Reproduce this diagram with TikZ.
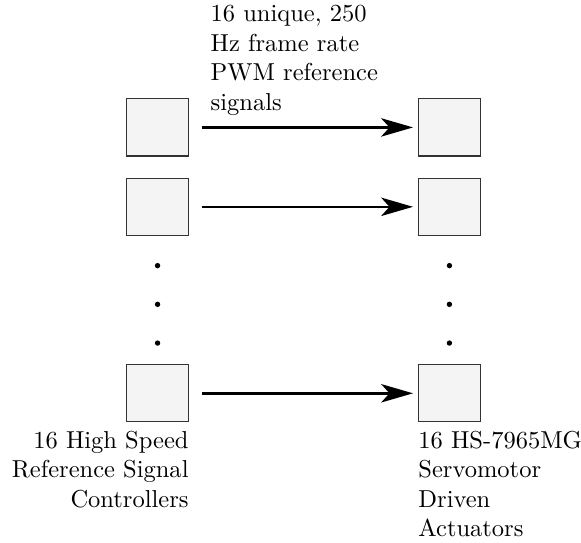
\documentclass[tikz,border=0pt]{standalone}
\usepackage{xcolor}
\usepackage{tikz}
\usetikzlibrary{arrows.meta,positioning}
\definecolor{boxfill}{HTML}{F4F4F4}

\begin{document}
\begin{tikzpicture}[
  box/.style={draw=black!80, line width=0.5pt, fill=boxfill, inner sep=0pt, minimum width=25.2pt, minimum height=23.3pt},
  arrow/.style={-{Stealth[length=13pt, width=7.5pt, inset=3.4pt]}, line width=1pt, shorten <=5.3pt, shorten >=2pt},
  vdot/.style={circle, fill=black, inner sep=0pt, minimum size=2.2pt},
  lbl/.style={font=\normalsize}
]
\useasboundingbox (0,0) rectangle (237.1pt,-221.5pt);
\node[box] (ctrl1) at (64.3pt,-52pt) {};
\node[box, below=8.6pt of ctrl1] (ctrl2) {};
\node[box, below=52.3pt of ctrl2] (ctrl16) {};
\node[box, right=93.4pt of ctrl1] (act1) {};
\node[box, right=93.4pt of ctrl2] (act2) {};
\node[box, right=93.4pt of ctrl16] (act16) {};

\node[vdot, below=10.8pt of ctrl2] (cdot1) {};
\node[vdot, below=13.2pt of cdot1] (cdot2) {};
\node[vdot, below=13.2pt of cdot2] (cdot3) {};
\node[vdot, below=10.8pt of act2] (adot1) {};
\node[vdot, below=13.2pt of adot1] (adot2) {};
\node[vdot, below=13.2pt of adot2] (adot3) {};

\draw[arrow] (ctrl1) -- (act1);
\draw[arrow] (ctrl2) -- (act2);
\draw[arrow] (ctrl16) -- (act16);

\node[lbl, anchor=south west, align=left] (siglbl) at ([xshift=5.3pt, yshift=1.5pt]ctrl1.east) {16 unique, 250\\Hz frame rate\\PWM reference\\signals};
\node[lbl, anchor=north east, align=right, inner xsep=0pt] (ctrllbl) at (ctrl16.south east) {16 High Speed\\Reference Signal\\Controllers};
\node[lbl, anchor=north west, align=left, inner xsep=0pt] (actlbl) at (act16.south west) {16 HS-7965MG\\Servomotor\\Driven\\Actuators};
\end{tikzpicture}
\end{document}
